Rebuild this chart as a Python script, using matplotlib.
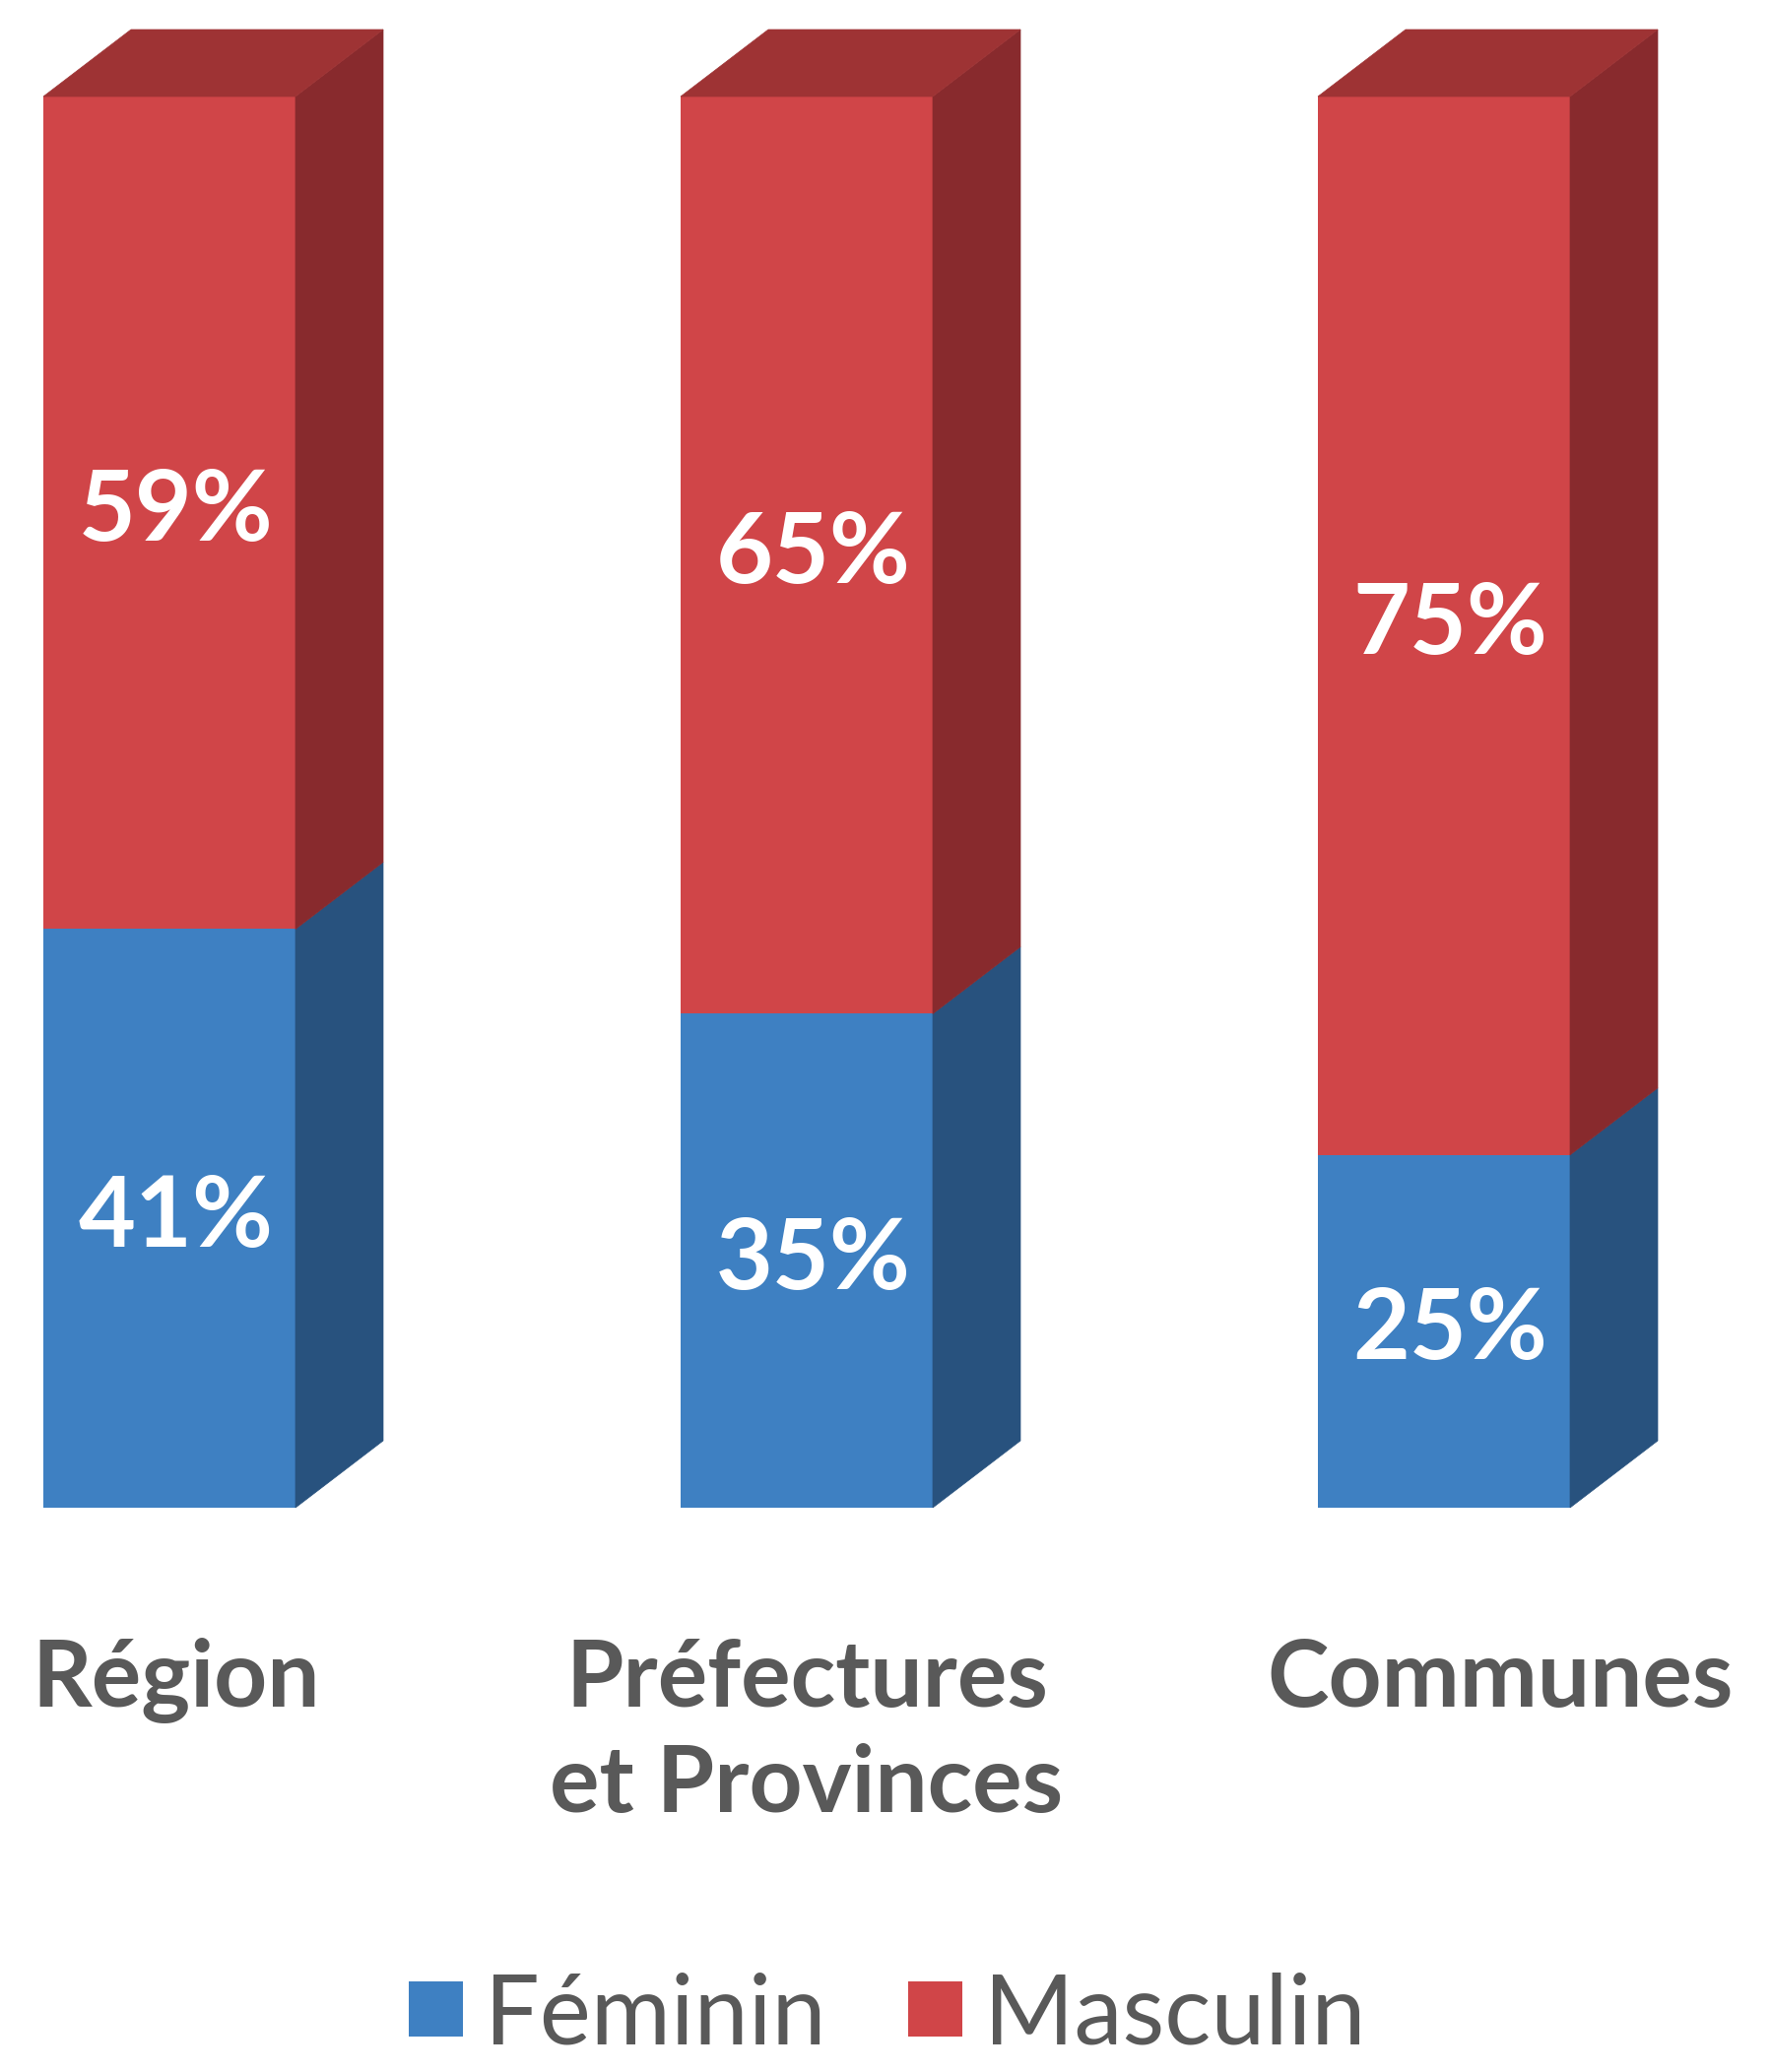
import numpy as np
import matplotlib.pyplot as plt
from matplotlib.patches import Polygon, Patch

# data
categories = ["Région", "Préfectures\net Provinces", "Communes"]
feminin = [41, 35, 25]
masculin = [59, 65, 75]
series_names = ["Féminin", "Masculin"]

# colours (front, side, top)
blue_front, blue_side = "#3E80C2", "#28527E"
red_front, red_side, red_top = "#D04548", "#882A2D", "#9E3334"
grey = "#595959"

W, H = 1798, 2104
fig = plt.figure(figsize=(W / 100, H / 100), dpi=100)

# axes box in pixels: y=0 at 1531 px, y=100 at 98 px (from top)
ax_bottom_px = H - 1531
ax_height_px = 1531 - 98
ax = fig.add_axes([0, ax_bottom_px / H, 1, ax_height_px / H])
x0_px, step_px = 172, 647
ax.set_xlim(-x0_px / step_px, (W - x0_px) / step_px)
ax.set_ylim(0, 100)
ax.axis("off")

x = np.arange(len(categories))
width = 256 / step_px
# 3D depth converted to data units
dx = 89 / step_px
dy = 68 / (ax_height_px / 100)

ax.bar(x, feminin, width, color=blue_front, linewidth=0)
ax.bar(x, masculin, width, bottom=feminin, color=red_front, linewidth=0)

for i in x:
    xr = i + width / 2
    xl = i - width / 2
    segs = [(0, feminin[i], blue_side), (feminin[i], feminin[i] + masculin[i], red_side)]
    for b, t, c in segs:
        ax.add_patch(Polygon([(xr, b), (xr + dx, b + dy), (xr + dx, t + dy), (xr, t)],
                             closed=True, facecolor=c, edgecolor=c, lw=0.5, clip_on=False))
    top = feminin[i] + masculin[i]
    ax.add_patch(Polygon([(xl, top), (xr, top), (xr + dx, top + dy), (xl + dx, top + dy)],
                         closed=True, facecolor=red_top, edgecolor=red_top, lw=0.5, clip_on=False))

    ax.text(i + 0.01, feminin[i] / 2, f"{feminin[i]}%", ha="center", va="center",
            color="white", fontsize=72, fontweight="bold", family="Lato")
    ax.text(i + 0.01, feminin[i] + masculin[i] / 2, f"{masculin[i]}%", ha="center", va="center",
            color="white", fontsize=72, fontweight="bold", family="Lato")

# category labels under the bars
label_dx = [0.01, 0.0, 0.088]
for i, lab in enumerate(categories):
    ax.text(i + label_dx[i], -9.2, lab, ha="center", va="top", color=grey,
            fontsize=68, fontweight="bold", family="Lato", linespacing=1.3)

handles = [Patch(facecolor=blue_front, edgecolor="none"), Patch(facecolor=red_front, edgecolor="none")]
fig.legend(handles, series_names, loc="center", bbox_to_anchor=(0.501, 0.027), ncol=2,
           frameon=False, handlelength=0.56, handleheight=0.5, handletextpad=0.22,
           columnspacing=0.85, borderaxespad=0, borderpad=0,
           prop={"family": "Lato", "size": 71},
           labelcolor=grey)

fig.savefig("out.png", dpi=100, facecolor="white")
